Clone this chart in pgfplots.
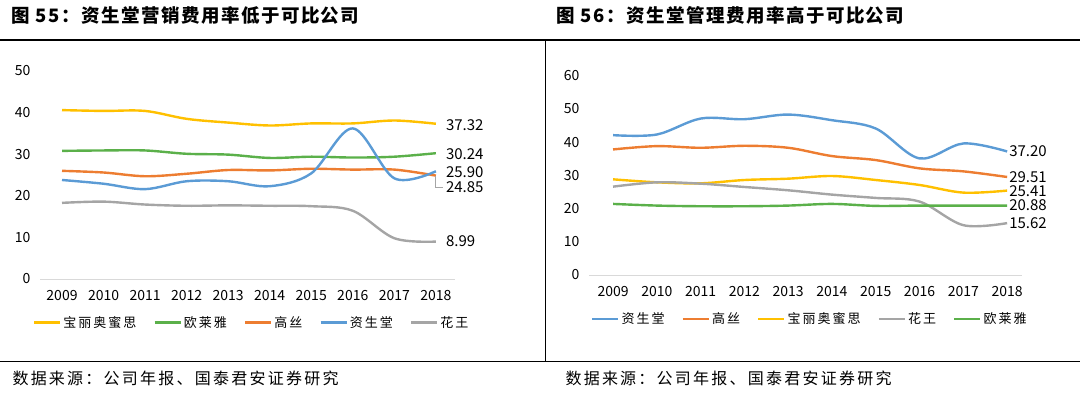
\documentclass[border=0pt]{standalone}
\usepackage{pgfplots}
\pgfplotsset{compat=1.18}
\usepackage{fontspec}
\setmainfont{Noto Sans CJK SC}
\newfontfamily\titlefont[LetterSpace=8]{Noto Sans CJK SC}
\newfontfamily\srcfont[LetterSpace=14]{Noto Sans CJK SC}
\newfontfamily\legfont[LetterSpace=15]{Noto Sans CJK SC}
\definecolor{cyel}{HTML}{FFC000}
\definecolor{cgrn}{HTML}{5BB04A}
\definecolor{corg}{HTML}{ED7D31}
\definecolor{cblu}{HTML}{5B9BD5}
\definecolor{cgry}{HTML}{A5A5A5}
\tikzset{vl/.style={anchor=west, inner sep=1pt, font=\fontsize{15}{15}\selectfont}}
\pgfplotsset{
  panel/.style={
    scale only axis,
    axis x line*=bottom, axis y line*=left,
    x axis line style={draw=black!15, line width=0.8pt, -},
    y axis line style={draw=none},
    major tick length=0pt,
    xtick={2009,...,2018},
    /pgf/number format/1000 sep={},
    /pgf/number format/assume math mode=true,
    tick label style={font=\fontsize{14}{14}\selectfont},
    yticklabel style={xshift=-6pt},
    xticklabel style={yshift=-8pt},
    clip=false,
    every axis plot/.append style={smooth, tension=0.55, line width=2.4pt},
    legend columns=5,
    legend style={draw=none, font=\legfont\fontsize{13}{13}\selectfont, anchor=center,
      /tikz/every even column/.append style={column sep=15pt}},
    legend image code/.code={\draw[#1, line width=2.6pt] (0pt,0pt) -- (26pt,0pt);},
  }
}
\begin{document}
\begin{tikzpicture}[x=1pt,y=1pt]
\useasboundingbox (0,0) rectangle (1080,396);
\node[anchor=west, font=\titlefont\bfseries\fontsize{18.5}{18.5}\selectfont] at (8,381) {图\ 55：资生堂营销费用率低于可比公司};
\node[anchor=west, font=\titlefont\bfseries\fontsize{18.5}{18.5}\selectfont] at (553,381) {图\ 56：资生堂管理费用率高于可比公司};
\draw[line width=1.3pt] (0,356) -- (1080,356);
\draw[line width=1pt] (0,34) -- (1080,34);
\draw[line width=0.8pt] (545,356) -- (545,34);
\node[anchor=west, font=\srcfont\fontsize{16}{16}\selectfont] at (9,18) {数据来源：公司年报、国泰君安证券研究};
\node[anchor=west, font=\srcfont\fontsize{16}{16}\selectfont] at (562,18) {数据来源：公司年报、国泰君安证券研究};

\begin{axis}[panel, at={(40pt,117pt)}, anchor=south west,
  width=415pt, height=208pt,
  xmin=2008.47, xmax=2018.46, ymin=0, ymax=50, ytick={0,10,...,50},
  legend style={at={(0.51,-0.21)}}]
\addplot[cyel] coordinates {(2009,40.6)(2010,40.4)(2011,40.4)(2012,38.5)(2013,37.6)(2014,36.9)(2015,37.4)(2016,37.4)(2017,38.1)(2018,37.32)};
\addlegendentry{宝丽奥蜜思}
\addplot[cgrn] coordinates {(2009,30.8)(2010,30.9)(2011,30.9)(2012,30.1)(2013,29.9)(2014,29.1)(2015,29.4)(2016,29.2)(2017,29.4)(2018,30.24)};
\addlegendentry{欧莱雅}
\addplot[corg] coordinates {(2009,26.0)(2010,25.6)(2011,24.7)(2012,25.3)(2013,26.2)(2014,26.1)(2015,26.5)(2016,26.3)(2017,26.3)(2018,24.85)};
\addlegendentry{高丝}
\addplot[cblu] coordinates {(2009,23.8)(2010,22.9)(2011,21.6)(2012,23.5)(2013,23.5)(2014,22.3)(2015,25.4)(2016,36.2)(2017,24.2)(2018,25.90)};
\addlegendentry{资生堂}
\addplot[cgry] coordinates {(2009,18.3)(2010,18.6)(2011,17.9)(2012,17.6)(2013,17.7)(2014,17.6)(2015,17.5)(2016,16.4)(2017,9.8)(2018,8.99)};
\addlegendentry{花王}
\node[vl, xshift=9pt] at (axis cs:2018,37.0) {37.32};
\node[vl, xshift=9pt] at (axis cs:2018,30.0) {30.24};
\node[vl, xshift=9pt] at (axis cs:2018,25.6) {25.90};
\node[vl, xshift=9pt] at (axis cs:2018,22.0) {24.85};
\node[vl, xshift=9pt] at (axis cs:2018,9.0) {8.99};
\draw[cgry, line width=0.8pt] (axis cs:2018,24.85) -- (axis cs:2018,22.0) -- ++(7pt,0pt);
\end{axis}

\begin{axis}[panel, at={(589pt,121pt)}, anchor=south west,
  width=433pt, height=199.3pt,
  xmin=2008.45, xmax=2018.34, ymin=0, ymax=60, ytick={0,10,...,60},
  legend style={at={(0.51,-0.22)}}]
\addplot[cblu] coordinates {(2009,42.1)(2010,42.3)(2011,47.1)(2012,46.9)(2013,48.3)(2014,46.6)(2015,44.1)(2016,35.1)(2017,39.6)(2018,37.20)};
\addlegendentry{资生堂}
\addplot[corg] coordinates {(2009,37.8)(2010,38.8)(2011,38.3)(2012,38.9)(2013,38.3)(2014,35.8)(2015,34.6)(2016,32.1)(2017,31.2)(2018,29.51)};
\addlegendentry{高丝}
\addplot[cyel] coordinates {(2009,28.8)(2010,27.9)(2011,27.6)(2012,28.6)(2013,29.0)(2014,29.8)(2015,28.6)(2016,27.1)(2017,24.8)(2018,25.41)};
\addlegendentry{宝丽奥蜜思}
\addplot[cgry] coordinates {(2009,26.6)(2010,27.9)(2011,27.5)(2012,26.5)(2013,25.5)(2014,24.2)(2015,23.2)(2016,22.1)(2017,15.0)(2018,15.62)};
\addlegendentry{花王}
\addplot[cgrn] coordinates {(2009,21.4)(2010,20.9)(2011,20.7)(2012,20.7)(2013,20.9)(2014,21.4)(2015,20.8)(2016,20.9)(2017,20.9)(2018,20.88)};
\addlegendentry{欧莱雅}
\node[vl, xshift=1pt] at (axis cs:2018,37.4) {37.20};
\node[vl, xshift=1pt] at (axis cs:2018,29.6) {29.51};
\node[vl, xshift=1pt] at (axis cs:2018,25.3) {25.41};
\node[vl, xshift=1pt] at (axis cs:2018,20.9) {20.88};
\node[vl, xshift=1pt] at (axis cs:2018,15.5) {15.62};
\end{axis}
\end{tikzpicture}
\end{document}
